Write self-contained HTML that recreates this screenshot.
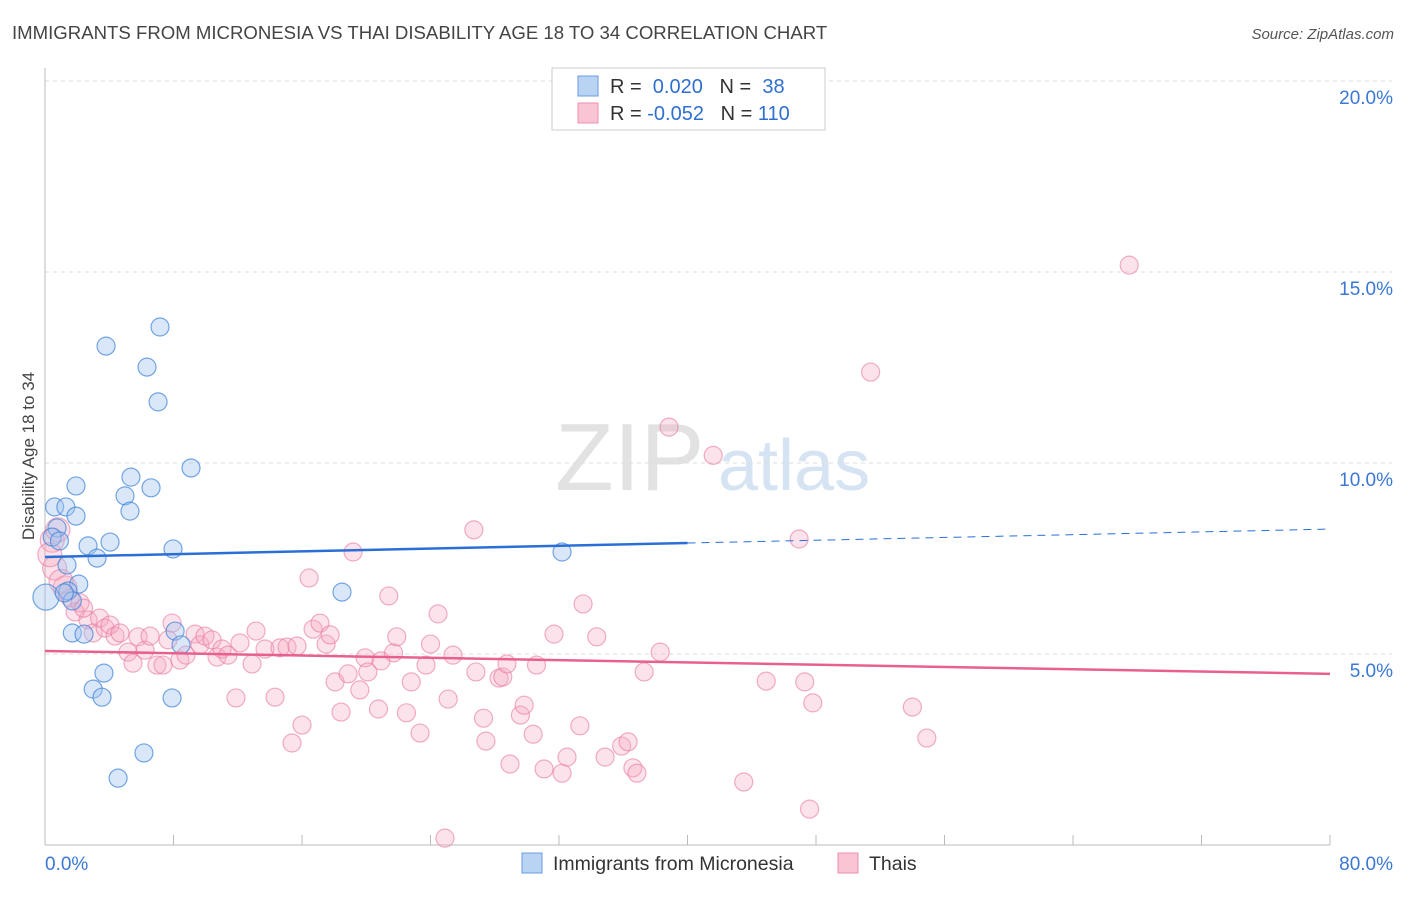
<!DOCTYPE html>
<html><head><meta charset="utf-8"><style>
body{margin:0;background:#fff;font-family:"Liberation Sans",sans-serif;}
svg text{font-family:"Liberation Sans",sans-serif;}
</style></head><body>
<svg id="chart" width="1406" height="892" xmlns="http://www.w3.org/2000/svg">
<text x="12" y="39" font-size="18.6" fill="#444">IMMIGRANTS FROM MICRONESIA VS THAI DISABILITY AGE 18 TO 34 CORRELATION CHART</text>
<text x="1394" y="39" font-size="15" fill="#555" text-anchor="end" font-style="italic">Source: ZipAtlas.com</text>
<g>
<text x="555" y="490" font-size="96" fill="#e2e2e2" font-family="Liberation Serif,serif">ZIP</text>
<text x="718" y="490" font-size="72" fill="#d5e3f3">atlas</text>
</g>
<g id="grid"></g>
<g id="axes"></g>
<g id="marks"></g>
<text transform="translate(34,456) rotate(-90)" font-size="17" fill="#444" text-anchor="middle">Disability Age 18 to 34</text>
<g>
<rect x="552" y="68" width="273" height="62" fill="#fff" stroke="#ccc"/>
<rect x="578" y="76" width="20" height="20" fill="#b9d3f3" stroke="#6a9be0"/>
<rect x="578" y="103" width="20" height="20" fill="#f9c5d5" stroke="#ec8fae"/>
<text x="610" y="93" font-size="20" fill="#333">R = <tspan fill="#2f6fd0">&#160;0.020</tspan>&#160;&#160;&#160;N = <tspan fill="#2f6fd0">&#160;38</tspan></text>
<text x="610" y="120" font-size="20" fill="#333">R = <tspan fill="#2f6fd0">-0.052</tspan>&#160;&#160;&#160;N = <tspan fill="#2f6fd0">110</tspan></text>
</g>
<g>
<rect x="522" y="853" width="20" height="20" fill="#b9d3f3" stroke="#6a9be0"/>
<text x="553" y="870" font-size="19.5" fill="#333">Immigrants from Micronesia</text>
<rect x="838" y="853" width="20" height="20" fill="#f9c5d5" stroke="#ec8fae"/>
<text x="869" y="870" font-size="19.5" fill="#333">Thais</text>
</g>
</svg>
<script>
const xTicks=[0,8,16,24,32,40,48,56,64,72,80];
const yTicks=[5,10,15,20];
const blueX=[0.06,0.6,1.3,0.75,0.45,0.9,1.37,2.1,1.43,1.7,1.93,1.93,2.68,3.24,4.05,1.7,2.43,3.0,3.67,3.55,3.8,4.55,6.16,6.35,7.16,7.04,5.35,4.98,6.6,5.29,9.09,7.97,8.1,8.47,7.91,18.49,32.19,1.2];
const blueY=[6.49,8.85,8.85,8.3,8.06,7.96,7.33,6.83,6.65,6.39,9.4,8.61,7.83,7.51,7.93,5.55,5.52,4.08,4.5,3.87,13.06,1.75,2.41,12.51,13.56,11.6,9.63,9.14,9.35,8.74,9.87,7.75,5.6,5.24,3.85,6.62,7.67,6.6];
const pinkX=[0.45,0.8,0.6,1.25,1.56,1.87,2.18,2.68,3.0,3.4,3.74,4.05,4.36,4.67,5.17,5.48,5.79,6.23,6.54,6.97,7.35,7.66,7.91,8.4,8.78,9.34,9.65,9.96,10.4,10.71,11.02,11.39,11.89,12.14,12.89,13.14,13.7,14.32,14.63,15.07,15.69,15.38,16.0,16.44,16.69,17.12,17.5,17.75,18.06,18.43,18.87,19.18,19.6,19.93,20.1,20.76,20.92,21.4,21.7,21.9,22.5,22.8,23.35,23.72,24.0,24.47,24.9,25.1,25.4,26.7,26.83,27.3,27.45,28.27,28.5,28.76,28.95,29.6,29.83,30.39,30.6,31.07,31.69,32.19,32.5,33.3,33.5,34.35,34.87,35.9,36.3,36.6,36.85,37.3,38.3,38.85,41.6,43.5,44.9,46.95,47.3,47.8,47.6,51.4,54.0,54.9,67.5,0.3,1.0,2.4];
const pinkY=[7.98,8.25,7.25,6.73,6.47,6.1,6.34,5.89,5.55,5.94,5.68,5.76,5.47,5.55,5.05,4.76,5.45,5.1,5.47,4.71,4.71,5.37,5.81,4.84,4.97,5.52,5.24,5.47,5.37,4.92,5.13,4.97,3.85,5.29,4.74,5.6,5.13,3.87,5.16,5.18,5.21,2.67,3.14,6.99,5.65,5.81,5.26,5.5,4.27,3.48,4.48,7.67,4.06,4.9,4.53,3.56,4.82,6.52,5.03,5.45,3.46,4.27,2.93,4.71,5.26,6.05,0.18,3.82,4.97,8.25,4.53,3.32,2.72,4.37,4.4,4.74,2.12,3.4,3.66,2.9,4.71,1.99,5.52,1.88,2.3,3.12,6.31,5.45,2.3,2.59,2.7,2.02,1.88,4.53,5.05,10.94,10.2,1.65,4.29,8.01,4.27,3.72,0.94,12.38,3.61,2.8,15.18,7.6,6.9,6.2];
const blueTrend=[7.54,8.27];
const pinkTrend=[5.08,4.48];
const NS="http://www.w3.org/2000/svg";
const X0=45,X1=1330,Y0=845,PPY=38.2;
function sx(v){return X0+(X1-X0)*v/80;}
function sy(v){return Y0-v*PPY;}
function mk(tag,attrs,parent){const e=document.createElementNS(NS,tag);for(const k in attrs)e.setAttribute(k,attrs[k]);parent.appendChild(e);return e;}
const grid=document.getElementById('grid'),axes=document.getElementById('axes'),marks=document.getElementById('marks');
yTicks.forEach(t=>{
 const l=mk('line',{x1:X0,x2:1392,y1:sy(t),y2:sy(t),stroke:'#ddd','stroke-dasharray':'4,4'},grid);
 
 
 const tx=mk('text',{x:1393,y:sy(t)+23,'font-size':19,fill:'#3a78d4','text-anchor':'end'},axes);
 tx.textContent=t.toFixed(1)+'%';
 
 
});
const ya=mk('line',{x1:X0,x2:X0,y1:68,y2:Y0,stroke:'#bbb'},axes);


const xa=mk('line',{x1:X0,x2:X1,y1:Y0,y2:Y0,stroke:'#bbb'},axes);


xTicks.forEach(t=>{
 const l=mk('line',{x1:sx(t),x2:sx(t),y1:Y0-10,y2:Y0,stroke:'#bbb'},axes);
 
 
});
[[0,'0.0%','start',45],[80,'80.0%','end',1393]].forEach(a=>{
 const tx=mk('text',{x:a[3],y:870,'font-size':19,fill:'#3a78d4','text-anchor':a[2]},axes);
 tx.textContent=a[1];
 
 
});
pinkX.forEach((x,i)=>{
 const c=mk('circle',{cx:sx(x),cy:sy(pinkY[i]),r:(x<1.5?12:9),fill:'rgba(246,170,195,0.33)',stroke:'rgba(232,120,160,0.6)','stroke-width':1.2},marks);
 
 
});
blueX.forEach((x,i)=>{
 const c=mk('circle',{cx:sx(x),cy:sy(blueY[i]),r:(x<0.2?13:9),fill:'rgba(160,195,240,0.4)',stroke:'rgba(60,130,215,0.7)','stroke-width':1.2},marks);
 
 
});
const bmid=blueTrend[0]+(blueTrend[1]-blueTrend[0])*0.5;
const b1=mk('line',{x1:sx(0),y1:sy(blueTrend[0]),x2:sx(40),y2:sy(bmid),stroke:'#2a6fd6','stroke-width':2.5},marks);


const b2=mk('line',{x1:sx(40),y1:sy(bmid),x2:sx(80),y2:sy(blueTrend[1]),stroke:'#2a6fd6','stroke-width':1,'stroke-dasharray':'8,6'},marks);


const p1=mk('line',{x1:sx(0),y1:sy(pinkTrend[0]),x2:sx(80),y2:sy(pinkTrend[1]),stroke:'#e8608f','stroke-width':2.5},marks);


</script>
</body></html>
